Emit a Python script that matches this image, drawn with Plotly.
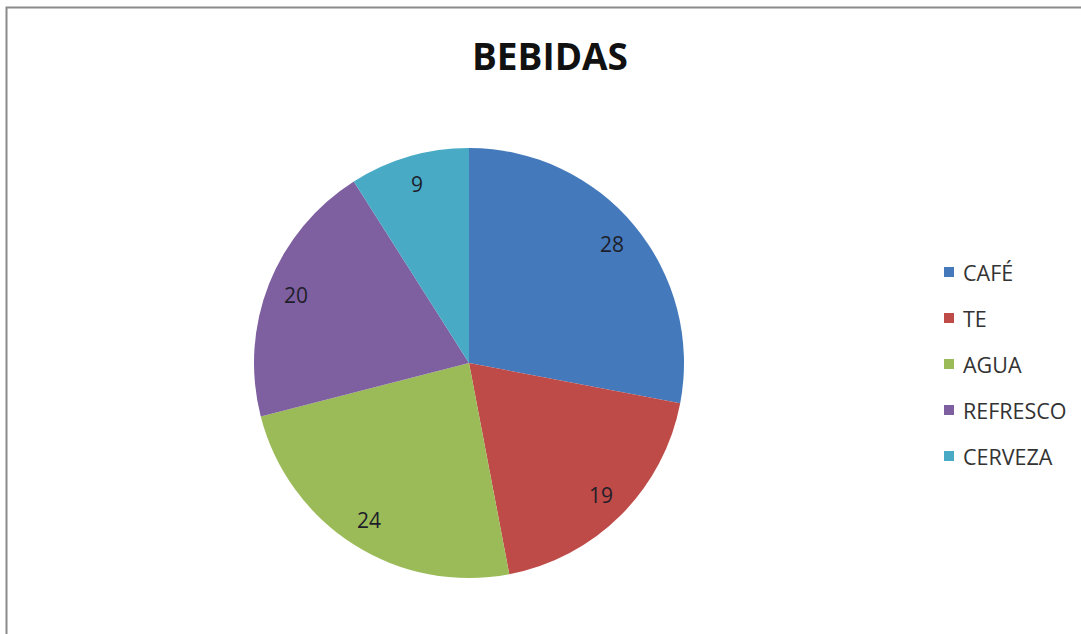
import numpy as np
import plotly.graph_objects as go

# Datos
categorias = ["CAFÉ", "TE", "AGUA", "REFRESCO", "CERVEZA"]
valores = [28, 19, 24, 20, 9]
colores = ["#4479BB", "#BE4B48", "#9BBB59", "#7E5FA0", "#48AAC5"]

W, H = 1081, 634
FONT = "Open Sans"

# Pie geometry (pixels)
cx, cy, R = 469, 363, 215
dom_x = [(cx - R) / W, (cx + R) / W]
dom_y = [1 - (cy + R) / H, 1 - (cy - R) / H]

fig = go.Figure()
fig.add_trace(go.Pie(
    labels=categorias,
    values=valores,
    sort=False,
    direction="clockwise",
    rotation=0,
    marker=dict(colors=colores, line=dict(width=0)),
    textinfo="none",
    hoverinfo="label+value+percent",
    domain=dict(x=dom_x, y=dom_y),
    showlegend=False,
))

# Value labels placed along each slice's bisector
total = float(np.sum(valores))
acum = np.cumsum([0] + valores[:-1])
annotations = []
for v, a0 in zip(valores, acum):
    theta = np.deg2rad((a0 + v / 2) / total * 360.0)
    r = 0.865 * R
    px = cx + r * np.sin(theta)
    py = cy - r * np.cos(theta)
    annotations.append(dict(
        x=px / W, y=1 - py / H, xref="paper", yref="paper",
        text=str(v), showarrow=False,
        font=dict(family=FONT, size=21, color="#1e1e2a"),
        xanchor="center", yanchor="middle",
    ))

# Legend (square swatch + label)
shapes = []
leg_x, leg_y0, leg_step, sq = 949, 272, 46, 10
for i, (cat, col) in enumerate(zip(categorias, colores)):
    yy = leg_y0 + i * leg_step
    shapes.append(dict(
        type="rect", xref="paper", yref="paper",
        x0=(leg_x - sq / 2) / W, x1=(leg_x + sq / 2) / W,
        y0=1 - (yy + sq / 2) / H, y1=1 - (yy - sq / 2) / H,
        fillcolor=col, line=dict(width=0),
    ))
    annotations.append(dict(
        x=961 / W, y=1 - yy / H, xref="paper", yref="paper",
        text=cat, showarrow=False,
        font=dict(family=FONT, size=21.5, color="#333333"),
        xanchor="left", yanchor="middle",
    ))

# Chart frame
shapes.append(dict(
    type="rect", xref="paper", yref="paper",
    x0=6.5 / W, x1=1.05, y0=-0.05, y1=1 - 7.5 / H,
    line=dict(color="#8a8a8a", width=2), fillcolor="rgba(0,0,0,0)",
))

fig.update_layout(
    width=W, height=H, autosize=False,
    margin=dict(l=0, r=0, t=0, b=0),
    paper_bgcolor="white", plot_bgcolor="white",
    title=dict(
        text="<b>BEBIDAS</b>", x=550 / W, y=1 - 57 / H,
        xanchor="center", yanchor="middle",
        font=dict(family=FONT, size=37, color="#111111"),
    ),
    annotations=annotations,
    shapes=shapes,
)

fig.write_html("out.html")
